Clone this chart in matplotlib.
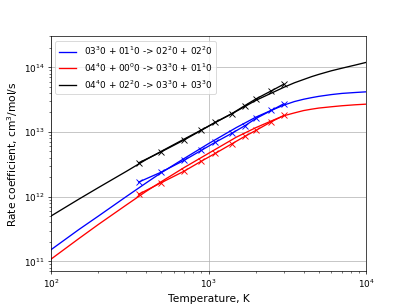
import matplotlib
matplotlib.use("Agg")
import matplotlib.pyplot as plt

# Fit curves (temperature grid, K)
T_fit = [100, 150, 200, 300, 400, 500, 700, 1000, 1500, 2000, 2500, 3000,
         3500, 4000, 4500, 5000, 6000, 7000, 8500, 10000]
k_fit_blue = [1.51e11, 3.09e11, 5.01e11, 1.00e12, 1.62e12, 2.34e12, 3.89e12, 6.61e12,
              1.17e13, 1.70e13, 2.16e13, 2.60e13,
              2.95e13, 3.20e13, 3.39e13, 3.55e13, 3.78e13, 3.94e13, 4.07e13, 4.17e13]
k_fit_red = [1.08e11, 2.24e11, 3.72e11, 7.41e11, 1.20e12, 1.70e12, 2.82e12, 4.68e12,
             8.32e12, 1.17e13, 1.48e13, 1.78e13,
             1.97e13, 2.14e13, 2.25e13, 2.34e13, 2.45e13, 2.54e13, 2.63e13, 2.69e13]
k_fit_black = [5.01e11, 9.12e11, 1.38e12, 2.45e12, 3.72e12, 5.01e12, 7.76e12, 1.23e13,
               2.09e13, 3.09e13, 3.98e13, 4.90e13,
               5.75e13, 6.46e13, 7.16e13, 7.76e13, 8.81e13, 9.66e13, 1.08e14, 1.19e14]

# Computed data points
T_data = [360, 500, 700, 900, 1100, 1400, 1700, 2000, 2500, 3000]
k_data_blue = [1.68e12, 2.39e12, 3.65e12, 5.20e12, 6.90e12, 9.50e12, 1.25e13, 1.62e13, 2.15e13, 2.73e13]
k_data_red = [1.09e12, 1.64e12, 2.48e12, 3.54e12, 4.65e12, 6.53e12, 8.57e12, 1.06e13, 1.44e13, 1.80e13]
k_data_black = [3.33e12, 4.92e12, 7.53e12, 1.06e13, 1.41e13, 1.91e13, 2.56e13, 3.25e13, 4.32e13, 5.47e13]

labels = [
    "03$^3$0 + 01$^1$0 -> 02$^2$0 + 02$^2$0",
    "04$^4$0 + 00$^0$0 -> 03$^3$0 + 01$^1$0",
    "04$^4$0 + 02$^2$0 -> 03$^3$0 + 03$^3$0",
]
colors = ["b", "r", "k"]

fig = plt.figure(figsize=(6.4, 4.8), dpi=63.6)
ax = fig.add_subplot(111)

fits = [k_fit_blue, k_fit_red, k_fit_black]
datas = [k_data_blue, k_data_red, k_data_black]
for kf, kd, c, lab in zip(fits, datas, colors, labels):
    ax.plot(T_fit, kf, color=c, label=lab)
    ax.plot(T_data, kd, color=c, marker="x")

ax.set_xscale("log")
ax.set_yscale("log")
ax.set_xlim(100, 1e4)
ax.set_ylim(7e10, 3e14)
ax.grid(True)
ax.set_xlabel("Temperature, K", fontsize=12)
ax.set_ylabel("Rate coefficient, cm$^3$/mol/s", fontsize=12)
ax.legend(loc="upper left")

fig.savefig("out.png", dpi=63.6)
